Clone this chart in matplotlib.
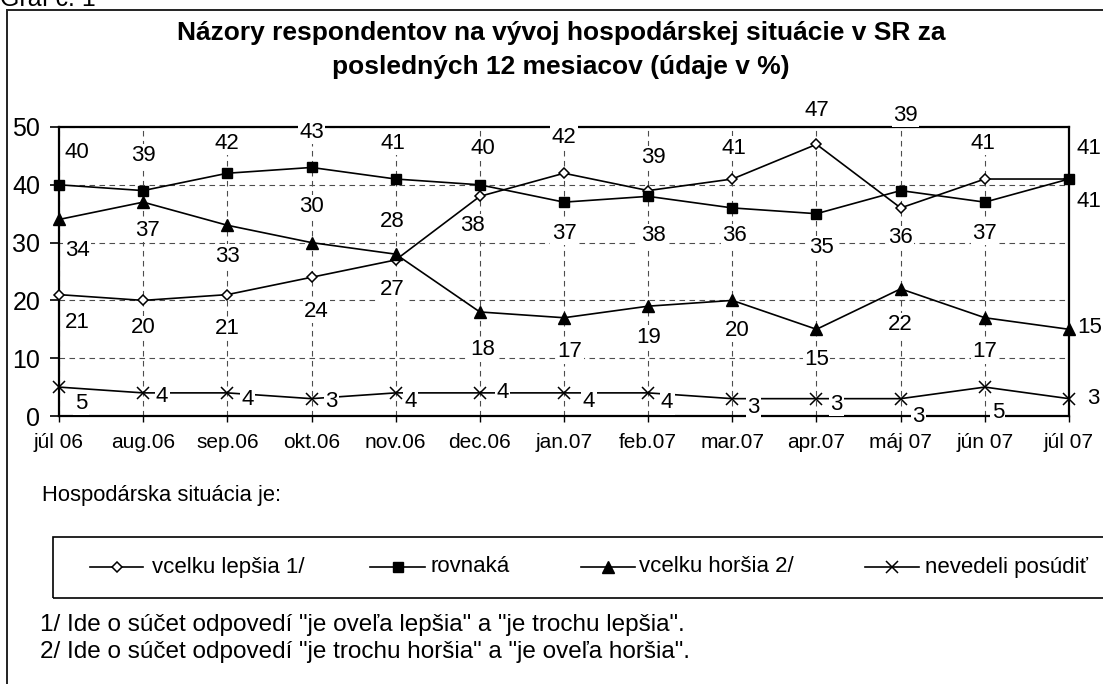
import matplotlib
matplotlib.use('Agg')
import matplotlib.pyplot as plt
from matplotlib.lines import Line2D
from matplotlib.patches import Rectangle

plt.rcParams['font.family'] = ['Liberation Sans', 'DejaVu Sans']

# data (údaje v %)
months = ['júl 06', 'aug.06', 'sep.06', 'okt.06', 'nov.06', 'dec.06', 'jan.07',
          'feb.07', 'mar.07', 'apr.07', 'máj 07', 'jún 07', 'júl 07']
lepsia = [21, 20, 21, 24, 27, 38, 42, 39, 41, 47, 36, 41, 41]
rovnaka = [40, 39, 42, 43, 41, 40, 37, 38, 36, 35, 39, 37, 41]
horsia = [34, 37, 33, 30, 28, 18, 17, 19, 20, 15, 22, 17, 15]
nevedeli = [5, 4, 4, 3, 4, 4, 4, 4, 3, 3, 3, 5, 3]
series_names = ['vcelku lepšia 1/', 'rovnaká', 'vcelku horšia 2/', 'nevedeli posúdiť']

# label offsets in pixels (right, down) from each point
lepsia_off = [(18, 28), (0, 27), (0, 34), (5, 34), (-3, 30), (-7, 29), (0, -36),
              (5, -33), (2, -31), (0, -34), (0, 30), (-2, -36), (20, -31)]
rovnaka_off = [(18, -32), (0, -35), (0, -30), (0, -35), (-3, -36), (3, -36), (0, 31),
               (5, 39), (2, 28), (5, 34), (5, -75), (0, 31), (20, 22)]
horsia_off = [(18, 31), (4, 28), (0, 31), (0, -36), (-3, -33), (3, 38), (6, 34),
              (0, 31), (5, 30), (0, 30), (0, 36), (0, 34), (21, -2)]
nevedeli_off = [(22, 16), (19, 4), (20, 7), (20, 3), (15, 9), (23, 0), (25, 9),
                (19, 10), (21, 9), (20, 6), (18, 18), (13, 25), (24, 0)]

W, H = 1103, 684
fig = plt.figure(figsize=(W / 100, H / 100), dpi=100)


def fx(px):
    return px / W


def fy(px):
    return 1 - px / H


ax = fig.add_axes([fx(59), fy(416), fx(1069) - fx(59), fy(127) - fy(416)])

styles = [
    dict(marker='D', ms=5.5, mfc='white', mec='black', mew=1.1),
    dict(marker='s', ms=7.5, mfc='black', mec='black'),
    dict(marker='^', ms=8.5, mfc='black', mec='black'),
    dict(marker='x', ms=8, mec='black', mew=1.1),
]
x = list(range(len(months)))
all_series = [lepsia, rovnaka, horsia, nevedeli]
all_offs = [lepsia_off, rovnaka_off, horsia_off, nevedeli_off]

for vals, st in zip(all_series, styles):
    ax.plot(x, vals, color='black', lw=1.2, zorder=3, clip_on=False, **st)

for vals, offs in zip(all_series, all_offs):
    for xi, v, (dx, dy) in zip(x, vals, offs):
        ax.annotate(str(v), (xi, v), xytext=(dx, -dy), textcoords='offset pixels',
                    ha='center', va='center', fontsize=16, zorder=6,
                    annotation_clip=False,
                    bbox=dict(boxstyle='square,pad=0.06', fc='white', ec='none'))

ax.set_xlim(0, 12)
ax.set_ylim(0, 50)
ax.set_xticks(x)
ax.set_xticklabels(months, fontsize=15)
ax.set_yticks(range(0, 51, 10))
ax.tick_params(axis='y', labelsize=18, length=6.5, width=1.2, pad=7)
ax.tick_params(axis='x', length=4.5, width=1, pad=8)
ax.grid(True, color='#4d4d4d', ls=(0, (5, 4)), lw=0.8)
for sp in ax.spines.values():
    sp.set_linewidth(1.6)
    sp.set_zorder(2.5)

# outer frame
fig.add_artist(Rectangle((fx(7), -0.05), 1.2, fy(10) + 0.05, transform=fig.transFigure,
                         fill=False, ec='#222222', lw=1.4))
fig.text(0.0, fy(6), 'Graf č. 1', fontsize=18, va='baseline', ha='left')

fig.text(fx(561), fy(33), 'Názory respondentov na vývoj hospodárskej situácie v SR za',
         fontsize=19, fontweight='bold', ha='center', va='center')
fig.text(fx(561), fy(67), 'posledných 12 mesiacov (údaje v %)',
         fontsize=19, fontweight='bold', ha='center', va='center')

fig.text(fx(42), fy(495), 'Hospodárska situácia je:', fontsize=15.8, ha='left', va='center')

# legend box
fig.add_artist(Rectangle((fx(53), fy(598)), 1.0, fy(537) - fy(598), transform=fig.transFigure,
                         fill=False, ec='black', lw=1.2))
leg_y = fy(567)
leg_pos = [(90, 143, 152), (370, 425, 431), (581, 635, 639), (865, 919, 925)]
for (x1, x2, tx), st, name in zip(leg_pos, styles, series_names):
    fig.add_artist(Line2D([fx(x1), fx(x2)], [leg_y, leg_y], color='black', lw=1.2,
                          transform=fig.transFigure))
    fig.add_artist(Line2D([fx((x1 + x2) / 2)], [leg_y], color='black', lw=0,
                          transform=fig.transFigure, **st))
    fig.text(fx(tx), leg_y, name, fontsize=16, ha='left', va='center')

fig.text(fx(40), fy(625), '1/ Ide o súčet odpovedí "je oveľa lepšia" a "je trochu lepšia".',
         fontsize=17.5, ha='left', va='center')
fig.text(fx(40), fy(652), '2/ Ide o súčet odpovedí "je trochu horšia" a "je oveľa horšia".',
         fontsize=17.5, ha='left', va='center')

fig.savefig('out.png', dpi=100)
